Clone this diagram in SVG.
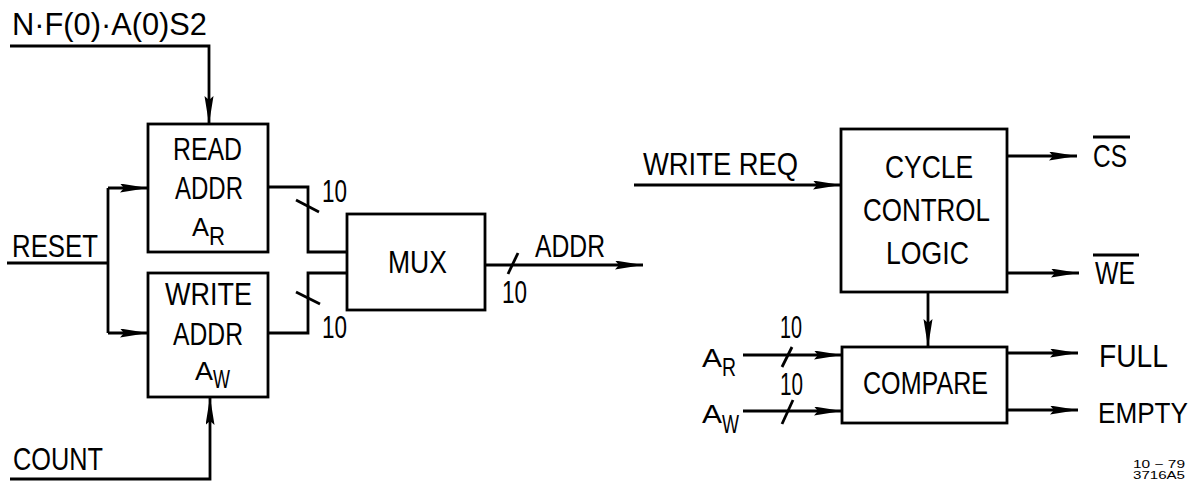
<svg xmlns="http://www.w3.org/2000/svg" width="1201" height="481" viewBox="0 0 1201 481">
<style>
.b{fill:none;stroke:#000;stroke-width:2.8}
.w{fill:none;stroke:#000;stroke-width:2.8;stroke-linejoin:miter}
.t{font-family:"Liberation Sans",Arial,sans-serif;font-size:31px;fill:#000}
.s{font-family:"Liberation Sans",Arial,sans-serif;font-size:25px;fill:#000}
.f{font-family:"Liberation Sans",Arial,sans-serif;font-size:11px;fill:#000}
</style>
<defs>
<marker id="ah" markerUnits="userSpaceOnUse" markerWidth="30" markerHeight="10" refX="28" refY="4.5" orient="auto">
<path d="M0,0 L28,4.5 L0,9 L4,4.5 Z" fill="#000"/>
</marker>
</defs>
<rect width="1201" height="481" fill="#fff"/>

<g id="read-addr">
<rect class="b" x="148" y="124" width="120" height="128"/>
<text class="t" x="173" y="160" textLength="69" lengthAdjust="spacingAndGlyphs">READ</text>
<text class="t" x="175" y="199" textLength="68" lengthAdjust="spacingAndGlyphs">ADDR</text>
<text class="s" x="192" y="236" textLength="17" lengthAdjust="spacingAndGlyphs">A</text>
<text class="s" x="209" y="245" textLength="16" lengthAdjust="spacingAndGlyphs">R</text>
</g>

<g id="write-addr">
<rect class="b" x="148" y="273" width="120" height="124"/>
<text class="t" x="165" y="305" textLength="87" lengthAdjust="spacingAndGlyphs">WRITE</text>
<text class="t" x="173" y="345" textLength="70" lengthAdjust="spacingAndGlyphs">ADDR</text>
<text class="s" x="195" y="380" textLength="18" lengthAdjust="spacingAndGlyphs">A</text>
<text class="s" x="213" y="388" textLength="17" lengthAdjust="spacingAndGlyphs">W</text>
</g>

<g id="mux">
<rect class="b" x="347" y="214" width="138" height="96"/>
<text class="t" x="388" y="273" textLength="59" lengthAdjust="spacingAndGlyphs">MUX</text>
</g>

<g id="cycle-control">
<rect class="b" x="841" y="129" width="166" height="163"/>
<text class="t" x="885" y="178" textLength="88" lengthAdjust="spacingAndGlyphs">CYCLE</text>
<text class="t" x="863" y="221" textLength="127" lengthAdjust="spacingAndGlyphs">CONTROL</text>
<text class="t" x="886" y="264" textLength="83" lengthAdjust="spacingAndGlyphs">LOGIC</text>
</g>

<g id="compare">
<rect class="b" x="842" y="347" width="165" height="76"/>
<text class="t" x="863" y="394" textLength="125" lengthAdjust="spacingAndGlyphs">COMPARE</text>
</g>

<g id="connectors">
<path class="w" d="M10 46 H209 V124" marker-end="url(#ah)"/>
<path class="w" d="M7 263 H108"/>
<path class="w" d="M108 188 V333"/>
<path class="w" d="M108 188 H148" marker-end="url(#ah)"/>
<path class="w" d="M108 333 H148" marker-end="url(#ah)"/>
<path class="w" d="M10 479 H210 V397" marker-end="url(#ah)"/>
<path class="w" d="M268 187 H308 V252 H347"/>
<path class="w" d="M347 273 H308 V333 H268"/>
<path class="w" d="M296 200 L319 212"/>
<path class="w" d="M296 292 L320 304"/>
<path class="w" d="M485 265 H643" marker-end="url(#ah)"/>
<path class="w" d="M508 274 L518 253"/>
<path class="w" d="M634 185 H841" marker-end="url(#ah)"/>
<path class="w" d="M1007 156 H1077" marker-end="url(#ah)"/>
<path class="w" d="M1007 273 H1079" marker-end="url(#ah)"/>
<path class="w" d="M928 292 V347" marker-end="url(#ah)"/>
<path class="w" d="M743 355 H842" marker-end="url(#ah)"/>
<path class="w" d="M743 411 H842" marker-end="url(#ah)"/>
<path class="w" d="M782 367 L792 347"/>
<path class="w" d="M782 424 L793 400"/>
<path class="w" d="M1007 353 H1078" marker-end="url(#ah)"/>
<path class="w" d="M1007 410 H1078" marker-end="url(#ah)"/>
<path class="w" d="M1093 137 H1130"/>
<path class="w" d="M1093 255 H1139"/>
</g>

<g id="labels">
<text class="t" x="12" y="35" textLength="195" lengthAdjust="spacingAndGlyphs">N·F(0)·A(0)S2</text>
<text class="t" x="12" y="257" textLength="86" lengthAdjust="spacingAndGlyphs">RESET</text>
<text class="t" x="13" y="470" textLength="90" lengthAdjust="spacingAndGlyphs">COUNT</text>
<text class="t" x="322" y="202" textLength="25" lengthAdjust="spacingAndGlyphs">10</text>
<text class="t" x="322" y="338" textLength="25" lengthAdjust="spacingAndGlyphs">10</text>
<text class="t" x="535" y="257" textLength="70" lengthAdjust="spacingAndGlyphs">ADDR</text>
<text class="t" x="502" y="303" textLength="25" lengthAdjust="spacingAndGlyphs">10</text>
<text class="t" x="643" y="175" textLength="155" lengthAdjust="spacingAndGlyphs">WRITE REQ</text>
<text class="t" x="1093" y="167" textLength="34" lengthAdjust="spacingAndGlyphs">CS</text>
<text class="t" x="1095" y="284" textLength="40" lengthAdjust="spacingAndGlyphs">WE</text>
<text class="s" x="702" y="367" textLength="20" lengthAdjust="spacingAndGlyphs">A</text>
<text class="s" x="722" y="376" textLength="14" lengthAdjust="spacingAndGlyphs">R</text>
<text class="s" x="702" y="423" textLength="20" lengthAdjust="spacingAndGlyphs">A</text>
<text class="s" x="722" y="433" textLength="17" lengthAdjust="spacingAndGlyphs">W</text>
<text class="t" x="780" y="338" textLength="22" lengthAdjust="spacingAndGlyphs">10</text>
<text class="t" x="780" y="395" textLength="23" lengthAdjust="spacingAndGlyphs">10</text>
<text class="t" x="1099" y="367" textLength="69" lengthAdjust="spacingAndGlyphs">FULL</text>
<text class="t" x="1098" y="423" style="font-size:29.5px" textLength="90" lengthAdjust="spacingAndGlyphs">EMPTY</text>
<text class="f" x="1133" y="468" textLength="52" lengthAdjust="spacingAndGlyphs">10 − 79</text>
<text class="f" x="1133" y="479" textLength="52" lengthAdjust="spacingAndGlyphs">3716A5</text>
</g>
</svg>
